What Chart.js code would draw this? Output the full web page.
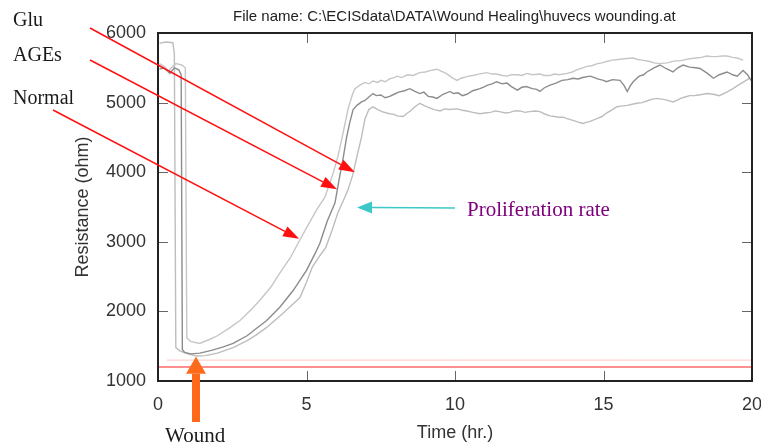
<!DOCTYPE html>
<html>
<head>
<meta charset="utf-8">
<script src="https://cdn.jsdelivr.net/npm/chart.js@4.4.1/dist/chart.umd.min.js"></script>
<style>
  html, body { margin: 0; padding: 0; background: #fff; }
</style>
</head>
<body>
<canvas id="woundChart" width="761" height="448"></canvas>
<script>
// resistance traces: [time (hr), resistance (ohm)]
const normalCurve = [
  [0.05,5560],[0.2,5520],[0.35,5450],[0.45,5500],[0.6,5560],[0.8,5540],[0.92,5500],[0.97,1620],[1.1,1570],
  [1.4,1540],[1.75,1600],[2.0,1650],[2.4,1760],[2.76,1870],[3.1,2010],[3.43,2160],[3.8,2350],[4.1,2550],
  [4.44,2760],[4.78,3030],[5.0,3200],[5.34,3460],[5.62,3640],[5.9,3990],[6.06,4230],[6.25,4600],[6.4,4910],
  [6.55,5120],[6.63,5200],[6.8,5250],[6.97,5290],[7.1,5270],[7.24,5310],[7.4,5290],[7.5,5320],[7.65,5300],
  [7.8,5340],[7.95,5360],[8.05,5380],[8.2,5360],[8.4,5400],[8.6,5390],[8.8,5430],[9.0,5440],[9.16,5460],
  [9.39,5480],[9.55,5450],[9.7,5420],[9.9,5360],[10.07,5320],[10.2,5350],[10.3,5360],[10.45,5380],[10.6,5390],
  [10.8,5410],[11.07,5430],[11.25,5410],[11.4,5410],[11.6,5390],[11.75,5380],[11.9,5400],[12.1,5400],[12.25,5390],
  [12.42,5420],[12.6,5400],[12.86,5410],[13.0,5390],[13.2,5390],[13.35,5410],[13.5,5400],[13.77,5420],[13.95,5440],
  [14.1,5470],[14.3,5500],[14.44,5520],[14.6,5530],[14.8,5560],[14.95,5570],[15.1,5590],[15.3,5610],[15.5,5620],
  [15.7,5630],[15.99,5640],[16.15,5620],[16.3,5610],[16.56,5590],[16.7,5570],[16.9,5560],[17.14,5570],[17.4,5600],
  [17.55,5600],[17.68,5610],[17.9,5630],[18.1,5640],[18.3,5650],[18.48,5670],[18.65,5660],[18.8,5660],[19.0,5670],
  [19.16,5670],[19.35,5650],[19.5,5640],[19.7,5610]
];
const agesCurve = [
  [0.05,5480],[0.2,5500],[0.4,5420],[0.55,5500],[0.7,5470],[0.78,5400],[0.82,1450],[0.9,1410],[1.1,1390],
  [1.41,1400],[1.8,1440],[2.2,1490],[2.53,1540],[3.0,1650],[3.3,1750],[3.66,1870],[4.1,2060],[4.55,2300],
  [5.0,2590],[5.3,2840],[5.45,2980],[5.7,3300],[5.96,3560],[6.1,3900],[6.23,4190],[6.35,4500],[6.46,4720],
  [6.57,4900],[6.7,4960],[6.85,5010],[6.97,5030],[7.1,5080],[7.24,5130],[7.35,5100],[7.5,5110],[7.65,5070],
  [7.8,5090],[7.95,5120],[8.1,5150],[8.3,5170],[8.48,5200],[8.65,5160],[8.82,5130],[8.95,5150],[9.1,5090],
  [9.25,5080],[9.39,5060],[9.6,5120],[9.83,5160],[9.95,5130],[10.1,5140],[10.25,5100],[10.4,5120],[10.6,5170],
  [10.84,5200],[11.0,5230],[11.1,5250],[11.25,5270],[11.4,5300],[11.6,5270],[11.75,5280],[11.9,5230],[12.1,5180],
  [12.25,5220],[12.4,5230],[12.6,5200],[12.75,5190],[12.86,5160],[13.0,5210],[13.2,5250],[13.4,5280],[13.6,5320],
  [13.8,5330],[13.97,5350],[14.15,5340],[14.3,5360],[14.55,5380],[14.7,5360],[14.8,5340],[15.0,5320],[15.1,5300],
  [15.3,5330],[15.56,5320],[15.7,5240],[15.8,5160],[15.9,5240],[16.0,5300],[16.2,5380],[16.35,5400],[16.46,5440],
  [16.7,5500],[16.9,5540],[17.1,5490],[17.34,5440],[17.5,5500],[17.68,5540],[17.9,5510],[18.1,5500],[18.25,5490],
  [18.5,5420],[18.7,5350],[18.9,5400],[19.16,5440],[19.35,5400],[19.5,5380],[19.7,5460],[19.85,5400],[20.0,5300]
];
const gluCurve = [
  [0.05,5850],[0.25,5870],[0.5,5860],[0.55,5700],[0.6,1480],[0.75,1430],[1.0,1390],[1.3,1360],[1.6,1365],
  [2.0,1400],[2.53,1480],[3.0,1580],[3.3,1660],[3.66,1770],[4.2,1970],[4.78,2200],[5.0,2420],[5.2,2640],
  [5.45,2800],[5.65,2920],[5.85,3150],[6.06,3420],[6.25,3600],[6.4,3750],[6.55,3950],[6.7,4230],[6.85,4500],
  [6.97,4770],[7.1,4900],[7.24,4940],[7.4,4900],[7.54,4870],[7.7,4850],[7.8,4840],[7.95,4830],[8.05,4810],
  [8.25,4800],[8.4,4850],[8.5,4880],[8.65,4940],[8.82,4990],[8.95,4960],[9.1,4930],[9.3,4900],[9.5,4880],
  [9.65,4910],[9.8,4900],[10.07,4910],[10.25,4890],[10.4,4880],[10.6,4860],[10.84,4840],[11.0,4850],[11.2,4860],
  [11.35,4880],[11.5,4870],[11.7,4850],[11.85,4860],[12.0,4880],[12.2,4880],[12.35,4860],[12.5,4870],[12.7,4880],
  [12.86,4870],[13.0,4840],[13.2,4810],[13.35,4800],[13.5,4790],[13.65,4790],[13.77,4770],[14.0,4740],[14.15,4720],
  [14.3,4700],[14.45,4720],[14.55,4730],[14.78,4770],[14.95,4800],[15.1,4850],[15.3,4900],[15.45,4940],[15.6,4950],
  [15.8,4960],[16.0,4980],[16.13,4990],[16.3,5000],[16.5,5030],[16.65,5050],[16.8,5060],[16.95,5050],[17.1,5040],
  [17.34,5010],[17.5,5040],[17.6,5060],[17.75,5080],[17.9,5100],[18.05,5100],[18.2,5110],[18.35,5120],[18.48,5130],
  [18.7,5120],[18.9,5100],[19.15,5150],[19.36,5200],[19.5,5240],[19.65,5280],[19.8,5320],[19.93,5350]
];

// the two reference levels drawn in red / pink near the bottom
const redLevel = 1200;
const redSpan = [0, 20];
const pinkLevel = 1300;
const pinkSpan = [0.3, 20];

const xTickStep = 5;
const yTickStep = 1000;

// annotation arrows: label origin in pixels, tip in data units
const labelArrows = [
  { from: [90, 28], to: [6.63, 4000] },   // Glu
  { from: [90, 60], to: [6.03, 3754] },   // AGEs
  { from: [53, 110], to: [4.75, 3043] }   // Normal
];
const rateArrow = { from: [455, 208], to: [6.7, 3493] };
const woundArrow = { tip: [1.28, 1348], bottom: 422 };

const sans = 'Liberation Sans, Arial, sans-serif';
const serif = 'Liberation Serif, Times New Roman, serif';

const toPoints = arr => arr.map(p => ({ x: p[0], y: p[1] }));

function drawArrow(ctx, x0, y0, x1, y1, color, width, headLen, headW) {
    const ang = Math.atan2(y1 - y0, x1 - x0);
    const bx = x1 - headLen * Math.cos(ang);
    const by = y1 - headLen * Math.sin(ang);
    ctx.strokeStyle = color;
    ctx.lineWidth = width;
    ctx.lineCap = 'butt';
    ctx.beginPath();
    ctx.moveTo(x0, y0);
    ctx.lineTo(bx, by);
    ctx.stroke();
    ctx.fillStyle = color;
    ctx.beginPath();
    ctx.moveTo(x1, y1);
    ctx.lineTo(bx + headW / 2 * Math.sin(ang), by - headW / 2 * Math.cos(ang));
    ctx.lineTo(bx - headW / 2 * Math.sin(ang), by + headW / 2 * Math.cos(ang));
    ctx.closePath();
    ctx.fill();
}

const framePlugin = {
    id: 'framePlugin',
    afterDraw(chart) {
        const { ctx, chartArea: a, scales: { x, y } } = chart;
        ctx.save();

        // inward tick marks on all four sides
        ctx.strokeStyle = '#666';
        ctx.lineWidth = 1;
        ctx.beginPath();
        x.ticks.forEach(t => {
            if (t.value <= x.min || t.value >= x.max) return;
            const px = Math.round(x.getPixelForValue(t.value)) + 0.5;
            ctx.moveTo(px, a.bottom); ctx.lineTo(px, a.bottom - 10);
            ctx.moveTo(px, a.top); ctx.lineTo(px, a.top + 10);
        });
        y.ticks.forEach(t => {
            if (t.value <= y.min || t.value >= y.max) return;
            const py = Math.round(y.getPixelForValue(t.value)) + 0.5;
            ctx.moveTo(a.left, py); ctx.lineTo(a.left + 10, py);
            ctx.moveTo(a.right, py); ctx.lineTo(a.right - 10, py);
        });
        ctx.stroke();

        // plot frame
        ctx.strokeStyle = '#222';
        ctx.lineWidth = 2;
        ctx.strokeRect(a.left, a.top, a.right - a.left, a.bottom - a.top);

        // file name header
        ctx.fillStyle = '#222';
        ctx.font = '15px ' + sans;
        ctx.textBaseline = 'alphabetic';
        ctx.textAlign = 'left';
        ctx.fillText('File name: C:\\ECISdata\\DATA\\Wound Healing\\huvecs wounding.at', 233, 21);

        // red arrows from the group labels
        labelArrows.forEach(arw => {
            drawArrow(ctx, arw.from[0], arw.from[1],
                x.getPixelForValue(arw.to[0]), y.getPixelForValue(arw.to[1]),
                '#ff1010', 1.5, 16, 11);
        });
        drawArrow(ctx, rateArrow.from[0], rateArrow.from[1],
            x.getPixelForValue(rateArrow.to[0]), y.getPixelForValue(rateArrow.to[1]),
            '#3cc8c8', 1.5, 15, 12);

        const wx = x.getPixelForValue(woundArrow.tip[0]);
        const wy = y.getPixelForValue(woundArrow.tip[1]);
        drawArrow(ctx, wx, woundArrow.bottom, wx, wy, '#ff6a1a', 8, 17, 20);

        ctx.font = '20px ' + serif;
        ctx.fillStyle = '#1a1a1a';
        ctx.fillText('Glu', 13, 26);
        ctx.fillText('AGEs', 13, 61);
        ctx.fillText('Normal', 13, 104);
        ctx.font = '21px ' + serif;
        ctx.fillText('Wound', 165, 442);
        ctx.fillStyle = '#800080';
        ctx.fillText('Proliferation rate', 467, 216);

        ctx.restore();
    }
};

const tickFont = { family: sans, size: 18 };
const plainNumber = v => String(v);

new Chart(document.getElementById('woundChart').getContext('2d'), {
    type: 'line',
    data: {
        datasets: [
            {
                label: 'Normal',
                data: toPoints(normalCurve),
                borderColor: '#c6c6c6',
                borderWidth: 1.4
            },
            {
                label: 'AGEs',
                data: toPoints(agesCurve),
                borderColor: '#8c8c8c',
                borderWidth: 1.4
            },
            {
                label: 'Glu',
                data: toPoints(gluCurve),
                borderColor: '#bdbdbd',
                borderWidth: 1.4
            },
            {
                label: 'pink level',
                data: pinkSpan.map(t => ({ x: t, y: pinkLevel })),
                borderColor: '#ffc4c4',
                borderWidth: 1
            },
            {
                label: 'red level',
                data: redSpan.map(t => ({ x: t, y: redLevel })),
                borderColor: '#ff6a6a',
                borderWidth: 1.5
            }
        ]
    },
    options: {
        responsive: false,
        animation: false,
        layout: { padding: { left: 0, right: 9, top: 33, bottom: 0 } },
        elements: { point: { radius: 0 }, line: { tension: 0 } },
        plugins: {
            legend: { display: false },
            tooltip: { enabled: false }
        },
        scales: {
            x: {
                type: 'linear',
                min: 0,
                max: 20,
                ticks: { stepSize: xTickStep, color: '#333', font: tickFont, padding: 13, maxRotation: 0, callback: plainNumber },
                grid: { display: false, drawTicks: false },
                border: { display: false },
                title: { display: true, text: 'Time (hr.)', color: '#333', font: tickFont, padding: { top: 0, bottom: 4 } },
                afterFit(scale) {
                    scale.height = 67;
                    scale.paddingLeft = 0;
                    scale.paddingRight = 0;
                }
            },
            y: {
                type: 'linear',
                min: 1000,
                max: 6000,
                ticks: { stepSize: yTickStep, color: '#333', font: tickFont, padding: 12, callback: plainNumber },
                grid: { display: false, drawTicks: false },
                border: { display: false },
                title: { display: true, text: 'Resistance (ohm)', color: '#333', font: tickFont, padding: { top: 72, bottom: 0 } },
                afterFit(scale) {
                    scale.width = 158;
                    scale.paddingTop = 0;
                    scale.paddingBottom = 0;
                }
            }
        }
    },
    plugins: [framePlugin]
});
</script>
</body>
</html>
